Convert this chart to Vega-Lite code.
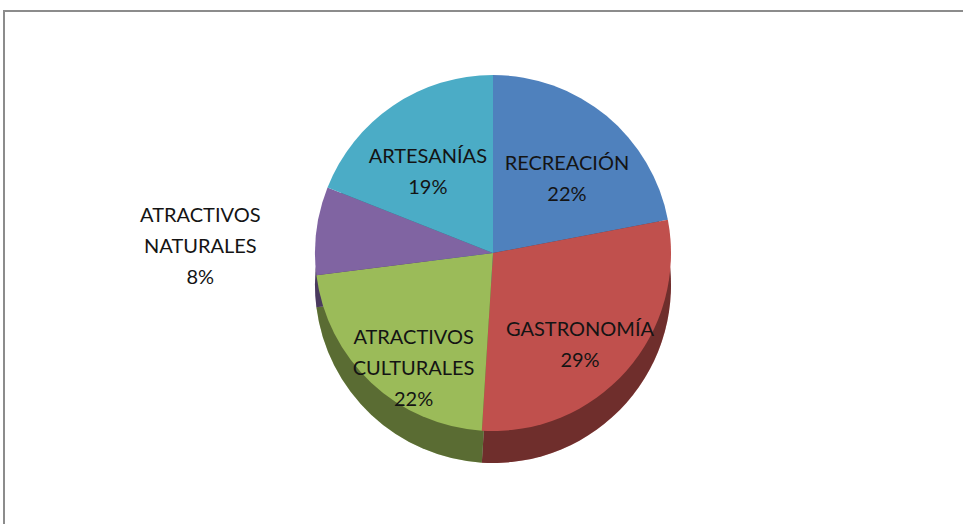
{
  "$schema": "https://vega.github.io/schema/vega-lite/v6.json",
  "width": 990,
  "height": 560,
  "autosize": {"type": "none"},
  "padding": {"left": 4, "top": 11, "right": 0, "bottom": 0},
  "background": "white",
  "view": {"stroke": "#8c8c8c", "strokeWidth": 2, "fill": "white"},
  "data": {
    "values": [
      {"rank": 1, "category": "RECREACIÓN", "pct": 22, "label": "RECREACIÓN\n22%"},
      {"rank": 2, "category": "GASTRONOMÍA", "pct": 29, "label": "GASTRONOMÍA\n29%"},
      {"rank": 3, "category": "ATRACTIVOS CULTURALES", "pct": 22, "label": "ATRACTIVOS\nCULTURALES\n22%"},
      {"rank": 4, "category": "ATRACTIVOS NATURALES", "pct": 8, "label": "ATRACTIVOS\nNATURALES\n8%"},
      {"rank": 5, "category": "ARTESANÍAS", "pct": 19, "label": "ARTESANÍAS\n19%"}
    ]
  },
  "encoding": {
    "theta": {"field": "pct", "type": "quantitative", "stack": true},
    "order": {"field": "rank", "type": "ordinal"}
  },
  "layer": [
    {
      "mark": {"type": "arc", "outerRadius": 178, "x": 489, "y": 274},
      "encoding": {
        "color": {
          "field": "category", "type": "nominal", "legend": null,
          "scale": {
            "domain": ["RECREACIÓN", "GASTRONOMÍA", "ATRACTIVOS CULTURALES", "ATRACTIVOS NATURALES", "ARTESANÍAS"],
            "range": ["#4F81BD", "#C0504D", "#9BBB59", "#8064A2", "#4BACC6"]
          }
        }
      }
    },
    {
      "mark": {"type": "arc", "outerRadius": 178, "x": 489, "y": 274, "fill": "black", "opacity": 0.42},
      "encoding": {}
    },
    {
      "mark": {"type": "arc", "outerRadius": 178, "x": 489, "y": 242},
      "encoding": {
        "color": {"field": "category", "type": "nominal", "legend": null}
      }
    },
    {
      "mark": {"type": "text", "radius": 116, "x": 489, "y": 242, "font": "Lato", "fontSize": 20, "lineHeight": 31, "lineBreak": "\n", "fill": "#141414"},
      "encoding": {
        "text": {"field": "label", "condition": {"test": "datum.category === 'ATRACTIVOS NATURALES'", "value": ""}}
      }
    },
    {
      "mark": {"type": "text", "radius": 295, "x": 489, "y": 242, "font": "Lato", "fontSize": 20, "lineHeight": 31, "lineBreak": "\n", "fill": "#141414"},
      "encoding": {
        "text": {"field": "label", "condition": {"test": "datum.category !== 'ATRACTIVOS NATURALES'", "value": ""}}
      }
    }
  ]
}
